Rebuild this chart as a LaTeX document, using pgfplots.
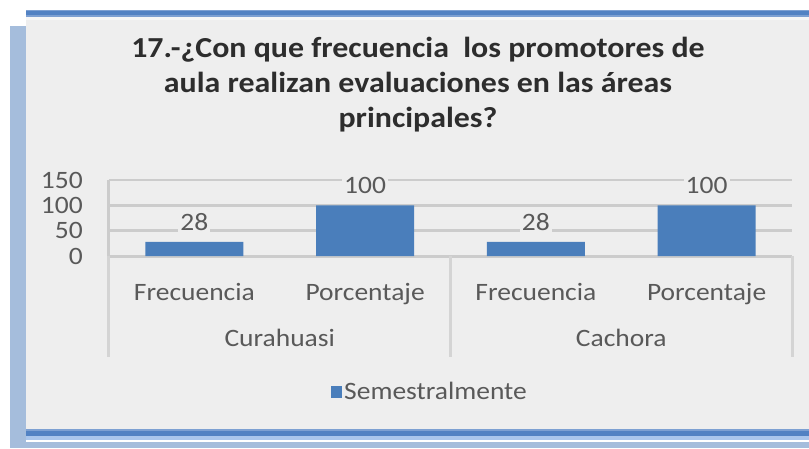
\documentclass[border=0pt]{standalone}
\usepackage{fontspec}
\setmainfont{Carlito}[FakeStretch=1.1]
\usepackage{pgfplots}
\pgfplotsset{compat=1.18}
\definecolor{panel}{RGB}{238,238,238}
\definecolor{stripblue}{RGB}{165,189,220}
\definecolor{darkband}{RGB}{82,130,195}
\definecolor{midband}{RGB}{125,160,210}
\definecolor{lightband}{RGB}{170,198,236}
\definecolor{paleband}{RGB}{246,246,246}
\definecolor{barblue}{RGB}{74,126,187}
\definecolor{gridgray}{RGB}{204,204,204}
\definecolor{sepgray}{RGB}{212,212,212}
\definecolor{labelgray}{RGB}{89,89,89}
\definecolor{titlegray}{RGB}{45,45,45}
\begin{document}
\begin{tikzpicture}[x=1pt,y=1pt]
\useasboundingbox (0,0) rectangle (809,448);
\fill[white] (0,0) rectangle (809,448);
\fill[stripblue] (10,0) rectangle (26,422);
\fill[stripblue] (10,0) rectangle (809,6);
\fill[white] (26,6) rectangle (809,8);
\fill[lightband] (26,8) rectangle (809,12);
\fill[darkband] (26,12) rectangle (809,17);
\fill[midband] (26,17) rectangle (809,19);
\fill[panel] (26,19) rectangle (809,428);
\fill[paleband] (26,428) rectangle (809,431);
\fill[midband] (26,431) rectangle (809,438);
\fill[darkband] (26,432.5) rectangle (809,436.5);
\node[align=center, text=titlegray, font=\fontsize{29}{35}\selectfont\bfseries] at (418,363)
  {17.-¿Con que frecuencia\ \ los promotores de\\aula realizan evaluaciones en las áreas\\principales?};
\begin{axis}[
  scale only axis, width=683pt, height=76pt,
  anchor=south west, at={(109pt,192pt)},
  xmin=0, xmax=4, ymin=0, ymax=150,
  ybar, bar width=98pt,
  xtick={0.5,1.5,2.5,3.5},
  xticklabels={Frecuencia,Porcentaje,Frecuencia,Porcentaje},
  ytick={0,50,100,150},
  axis x line*=bottom, axis y line*=left,
  ymajorgrids, grid style={gridgray, line width=2.5pt},
  axis line style={gridgray, line width=3pt},
  major tick length=0pt,
  /pgf/number format/assume math mode=true,
  tick label style={font=\fontsize{25}{30}\selectfont, text=labelgray},
  xticklabel style={anchor=base, yshift=-44pt},
  yticklabel style={anchor=east, inner sep=0pt, xshift=-26pt},
  nodes near coords,
  nodes near coords style={font=\fontsize{25}{30}\selectfont, text=labelgray, anchor=center, yshift=20pt, fill=panel, inner sep=2pt},
  clip=false,
  legend style={at={(0.47,-1.79)}, anchor=center, draw=none, fill=none,
    font=\fontsize{25}{30}\selectfont, text=labelgray},
  legend image code/.code={\fill[#1] (0pt,-6pt) rectangle (11pt,6pt);},
]
\addplot[fill=barblue, draw=none] coordinates {(0.5,28) (1.5,100) (2.5,28) (3.5,100)};
\legend{Semestralmente}
\draw[sepgray, line width=3pt] (axis cs:0,0) -- ++(0,-101pt);
\draw[sepgray, line width=3pt] (axis cs:2,0) -- ++(0,-101pt);
\draw[sepgray, line width=3pt] (axis cs:4,0) -- ++(0,-101pt);
\node[font=\fontsize{25}{30}\selectfont, text=labelgray, anchor=base, yshift=-90pt] at (axis cs:1,0) {Curahuasi};
\node[font=\fontsize{25}{30}\selectfont, text=labelgray, anchor=base, yshift=-90pt] at (axis cs:3,0) {Cachora};
\end{axis}
\end{tikzpicture}
\end{document}
